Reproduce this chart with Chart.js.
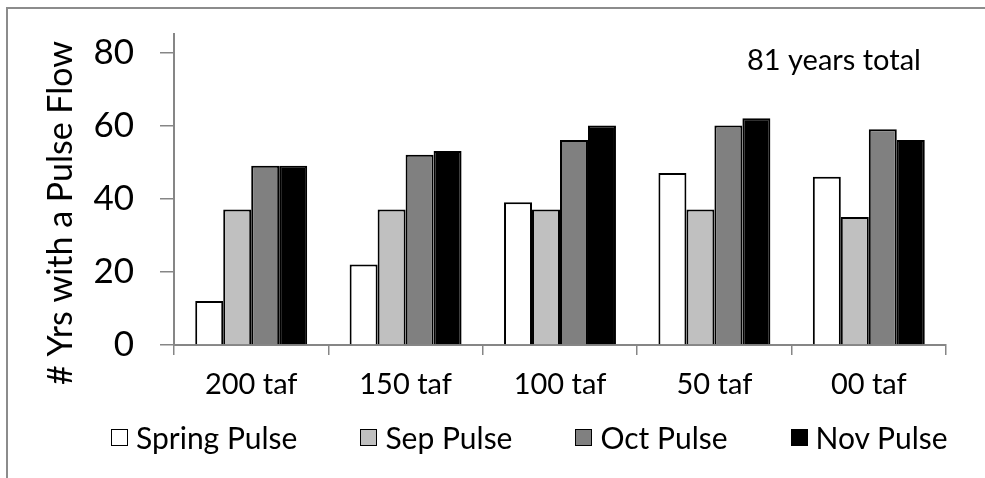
<!DOCTYPE html>
<html>
<head>
<meta charset="utf-8">
<script src="https://cdn.jsdelivr.net/npm/chart.js@4.4.1/dist/chart.umd.min.js"></script>
<style>
  html, body { margin: 0; padding: 0; background: #ffffff; }
  #wrap { position: relative; width: 985px; height: 478px; overflow: hidden; background: #fff; }
  #frame { position: absolute; left: 6px; top: 7px; width: 1100px; height: 600px;
           border-left: 2px solid #8c8c8c; border-top: 2px solid #8c8c8c; box-sizing: border-box; }
  #chart { position: absolute; left: 0; top: 0; }
  #legend { position: absolute; left: 111px; top: 421px; display: flex; gap: 63px;
            font-family: Lato, sans-serif; font-size: 30px; color: #000; }
  .item { display: flex; align-items: center; white-space: nowrap; line-height: 32px; }
  .box { width: 17px; height: 17px; border: 1px solid #000; box-sizing: border-box; margin-right: 8px; margin-top: 1px; }
</style>
</head>
<body>
<div id="wrap">
  <div id="frame"></div>
  <canvas id="chart" width="985" height="478"></canvas>
  <div id="legend"></div>
</div>
<script>
const categories = ['200 taf', '150 taf', '100 taf', '50 taf', '00 taf'];
const seriesNames = ['Spring Pulse', 'Sep Pulse', 'Oct Pulse', 'Nov Pulse'];
const springPulse = [12, 22, 39, 47, 46];
const sepPulse = [37, 37, 37, 37, 35];
const octPulse = [49, 52, 56, 60, 59];
const novPulse = [49, 53, 60, 62, 56];
const yTickValues = [0, 20, 40, 60, 80];
const yAxisTitle = '# Yrs with a Pulse Flow';
const noteText = '81 years total';

const seriesColors = ['#ffffff', '#c0c0c0', '#808080', '#000000'];
const seriesValues = [springPulse, sepPulse, octPulse, novPulse];
const FONT = 'Lato, sans-serif';

const datasets = seriesNames.map((name, i) => ({
  label: name,
  data: seriesValues[i],
  backgroundColor: seriesColors[i],
  borderColor: '#000000',
  borderWidth: 2,
  categoryPercentage: 0.725,
  barPercentage: 1.0
}));

const extraText = {
  id: 'extraText',
  afterDraw(chart) {
    const ctx = chart.ctx;
    ctx.save();
    ctx.fillStyle = '#000';
    ctx.font = '34px ' + FONT;
    ctx.textAlign = 'center';
    ctx.textBaseline = 'middle';
    ctx.translate(61, 213);
    ctx.rotate(-Math.PI / 2);
    ctx.fillText(yAxisTitle, 0, 0);
    ctx.restore();
    ctx.save();
    ctx.fillStyle = '#000';
    ctx.font = '29px ' + FONT;
    ctx.textAlign = 'left';
    ctx.textBaseline = 'alphabetic';
    ctx.fillText(noteText, 747, 70);
    ctx.restore();
  }
};

const htmlLegend = {
  id: 'htmlLegend',
  afterUpdate(chart) {
    const el = document.getElementById('legend');
    el.innerHTML = '';
    chart.data.datasets.forEach(ds => {
      const item = document.createElement('div');
      item.className = 'item';
      const box = document.createElement('span');
      box.className = 'box';
      box.style.background = ds.backgroundColor;
      const txt = document.createElement('span');
      txt.textContent = ds.label;
      item.appendChild(box);
      item.appendChild(txt);
      el.appendChild(item);
    });
  }
};

new Chart(document.getElementById('chart'), {
  type: 'bar',
  data: { labels: categories, datasets },
  options: {
    responsive: false,
    animation: false,
    layout: { padding: { left: 0, right: 39, top: 34, bottom: 0 } },
    plugins: { legend: { display: false }, tooltip: { enabled: false } },
    scales: {
      x: {
        grid: { display: true, offset: true, drawOnChartArea: false, tickLength: 10, color: '#868686', lineWidth: 1.5 },
        border: { display: true, color: '#868686', width: 2 },
        ticks: { font: { family: FONT, size: 29 }, color: '#000', padding: 12, maxRotation: 0 },
        afterFit(scale) { scale.height = 133; scale.paddingLeft = 0; scale.paddingRight = 0; }
      },
      y: {
        min: 0, max: 85,
        afterBuildTicks(scale) { scale.ticks = yTickValues.map(v => ({ value: v })); },
        grid: { display: true, drawOnChartArea: false, tickLength: 14, color: '#868686', lineWidth: 1.5 },
        border: { display: true, color: '#868686', width: 2 },
        ticks: { font: { family: FONT, size: 35 }, color: '#000', padding: 26 },
        afterFit(scale) { scale.width = 174; scale.paddingTop = 0; scale.paddingBottom = 0; }
      }
    }
  },
  plugins: [extraText, htmlLegend]
});
</script>
</body>
</html>
